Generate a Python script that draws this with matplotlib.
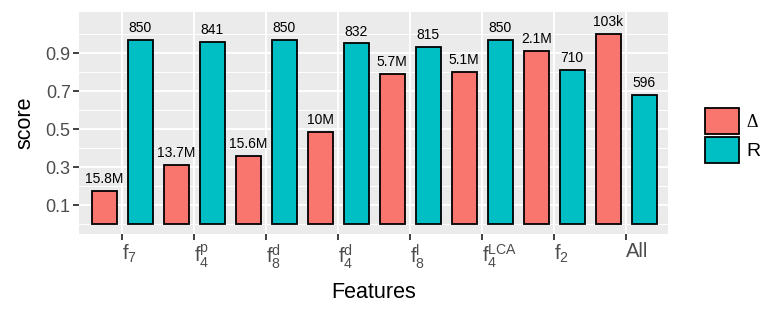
import matplotlib
matplotlib.use("Agg")
import matplotlib.pyplot as plt
from matplotlib.patches import Patch
from matplotlib.ticker import FixedLocator
import numpy as np

plt.rcParams['font.family'] = ['Liberation Sans', 'DejaVu Sans']
plt.rcParams['mathtext.fontset'] = 'custom'
plt.rcParams['mathtext.rm'] = 'Liberation Sans'
plt.rcParams['mathtext.it'] = 'Liberation Sans'
plt.rcParams['mathtext.bf'] = 'Liberation Sans:bold'

# ---- data ----
features = [r'$\mathrm{f}_{7}$', r'$\mathrm{f}_{4}^{\mathrm{p}}$', r'$\mathrm{f}_{8}^{\mathrm{d}}$',
            r'$\mathrm{f}_{4}^{\mathrm{d}}$', r'$\mathrm{f}_{8}^{\mathrm{l}}$',
            r'$\mathrm{f}_{4}^{\mathrm{LCA}}$', r'$\mathrm{f}_{2}$', 'All']
delta_scores = [0.177, 0.314, 0.358, 0.484, 0.791, 0.800, 0.911, 1.000]
r_scores = [0.971, 0.961, 0.971, 0.951, 0.931, 0.971, 0.811, 0.681]
delta_labels = ['15.8M', '13.7M', '15.6M', '10M', '5.7M', '5.1M', '2.1M', '103k']
r_labels = ['850', '841', '850', '832', '815', '850', '710', '596']
series_names = ['Δ', 'R']
colors = ['#F8766D', '#00BFC4']

W, H = 782, 313
fig = plt.figure(figsize=(W / 100, H / 100), dpi=100)
ax = fig.add_axes([79 / W, 1 - 234 / H, (668 - 79) / W, (234 - 12) / H])
ax.set_facecolor('#EBEBEB')

x = np.arange(len(features))
off, bw = 0.25, 0.35
b1 = ax.bar(x - off, delta_scores, width=bw, color=colors[0], edgecolor='black', linewidth=1.3, zorder=3)
b2 = ax.bar(x + off, r_scores, width=bw, color=colors[1], edgecolor='black', linewidth=1.3, zorder=3)

for bars, labs in ((b1, delta_labels), (b2, r_labels)):
    for rect, lab in zip(bars, labs):
        ax.annotate(lab, (rect.get_x() + rect.get_width() / 2, rect.get_height()),
                    xytext=(0, 3.5), textcoords='offset points', ha='center', va='bottom',
                    fontsize=10, color='black', zorder=4)

ax.set_xlim(-0.6, 7.58)
ax.set_ylim(-0.05, 1.116)

ax.yaxis.set_major_locator(FixedLocator([0.1, 0.3, 0.5, 0.7, 0.9]))
ax.yaxis.set_minor_locator(FixedLocator([0.0, 0.2, 0.4, 0.6, 0.8, 1.0]))
ax.set_yticklabels(['0.1', '0.3', '0.5', '0.7', '0.9'])
ax.set_xticks(x)
ax.set_xticklabels(features, ha='left')

ax.grid(which='major', color='white', linewidth=1.3, zorder=0)
ax.grid(which='minor', axis='y', color='white', linewidth=0.7, zorder=0)
ax.set_axisbelow(True)
for s in ax.spines.values():
    s.set_visible(False)

ax.tick_params(axis='both', which='major', length=4, width=1.3, color='#333333',
               labelcolor='#4D4D4D', labelsize=13)
ax.tick_params(axis='x', labelsize=14.5, pad=2)
ax.tick_params(axis='y', which='minor', length=0)
ax.tick_params(axis='y', pad=2)

ax.set_xlabel('Features', fontsize=15.5, labelpad=8)
ax.set_ylabel('score', fontsize=15.5, labelpad=7)

handles = [Patch(facecolor=c, edgecolor='black', linewidth=1.3) for c in colors]
fs = 14
leg = fig.legend(handles, series_names, loc='center left',
                 bbox_to_anchor=(705 / W, 1 - 135.4 / H), frameon=False,
                 fontsize=fs, borderpad=0, borderaxespad=0,
                 handlelength=34 / (fs * 100 / 72), handleheight=32.6 / (fs * 100 / 72),
                 labelspacing=0.15, handletextpad=0.36)
leg.get_texts()[0].set_fontfamily('Liberation Serif')
leg.get_texts()[0].set_fontsize(13)

fig.savefig('out.png', dpi=100)
